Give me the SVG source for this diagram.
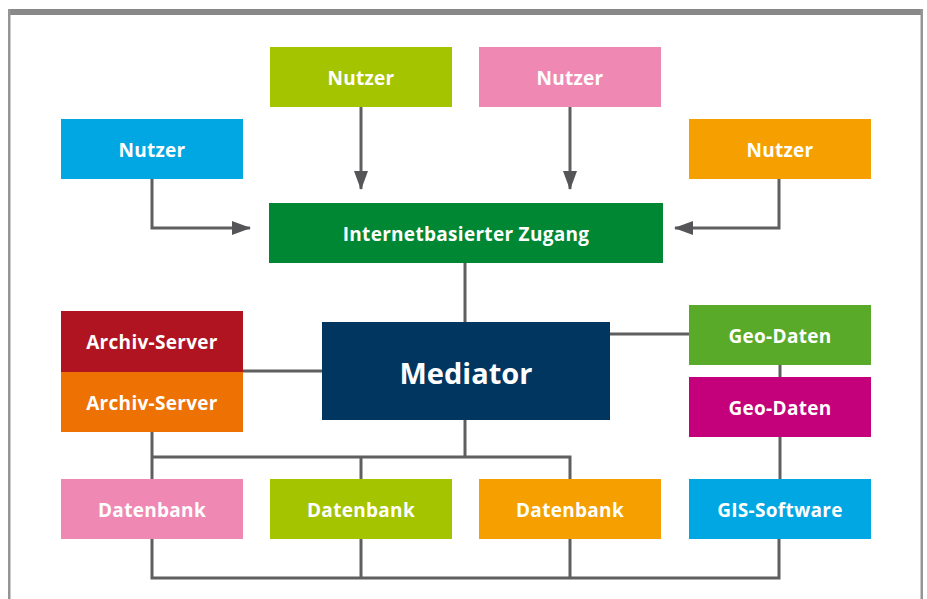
<svg xmlns="http://www.w3.org/2000/svg" width="927" height="599" viewBox="0 0 927 599">
<defs>
<style>
.t{font-family:"Open Sans","Liberation Sans",sans-serif;font-weight:bold;fill:#fff;font-size:19px;letter-spacing:0.3px;text-anchor:middle;dominant-baseline:central}
.big{font-size:29px;letter-spacing:0}
.c{stroke:#5f5f5f;stroke-width:3;fill:none}
</style>
<marker id="ah" markerWidth="20" markerHeight="14" refX="18" refY="7" orient="auto" markerUnits="userSpaceOnUse"><path d="M0,0 L19,7 L0,14 Z" fill="#555558"/></marker>
</defs>
<rect x="0" y="0" width="927" height="599" fill="#fff"/>
<g id="frame">
<rect x="8" y="9" width="915" height="6" fill="#888"/>
<rect x="8" y="9" width="2.5" height="590" fill="#959595"/>
<rect x="920.5" y="9" width="2.5" height="590" fill="#959595"/>
</g>
<g id="connectors">
<path class="c" d="M152,179 V228 H250" marker-end="url(#ah)"/>
<path class="c" d="M779,179 V228 H675" marker-end="url(#ah)"/>
<path class="c" d="M361,107 V189" marker-end="url(#ah)"/>
<path class="c" d="M570,107 V189" marker-end="url(#ah)"/>
<path class="c" d="M465,263 V322"/>
<path class="c" d="M243,371 H322"/>
<path class="c" d="M610,334 H689"/>
<path class="c" d="M780,365 V377"/>
<path class="c" d="M780,437 V479"/>
<path class="c" d="M465,420 V457"/>
<path class="c" d="M152,432 V479"/>
<path class="c" d="M152,457 H570 V479"/>
<path class="c" d="M361,457 V479"/>
<path class="c" d="M152,539 V578 H779 V539"/>
<path class="c" d="M361,539 V578"/>
<path class="c" d="M570,539 V578"/>
</g>
<g id="nutzer1"><rect x="270" y="47" width="182" height="60" fill="#a5c400"/><text class="t" x="361" y="78">Nutzer</text></g>
<g id="nutzer2"><rect x="479" y="47" width="182" height="60" fill="#ef89b4"/><text class="t" x="570" y="78">Nutzer</text></g>
<g id="nutzer3"><rect x="61" y="119" width="182" height="60" fill="#00a7e2"/><text class="t" x="152" y="150">Nutzer</text></g>
<g id="nutzer4"><rect x="689" y="119" width="182" height="60" fill="#f5a000"/><text class="t" x="780" y="150">Nutzer</text></g>
<g id="zugang"><rect x="269" y="203" width="394" height="60" fill="#008733"/><text class="t" x="466" y="234">Internetbasierter Zugang</text></g>
<g id="mediator"><rect x="322" y="322" width="288" height="98" fill="#00365f"/><text class="t big" x="466" y="372">Mediator</text></g>
<g id="archiv1"><rect x="61" y="311" width="182" height="61" fill="#b01420"/><text class="t" x="152" y="342">Archiv-Server</text></g>
<g id="archiv2"><rect x="61" y="372" width="182" height="60" fill="#ee7203"/><text class="t" x="152" y="403">Archiv-Server</text></g>
<g id="geo1"><rect x="689" y="305" width="182" height="60" fill="#5aaa2a"/><text class="t" x="780" y="336">Geo-Daten</text></g>
<g id="geo2"><rect x="689" y="377" width="182" height="60" fill="#c4007a"/><text class="t" x="780" y="408">Geo-Daten</text></g>
<g id="db1"><rect x="61" y="479" width="182" height="60" fill="#ef89b4"/><text class="t" x="152" y="510">Datenbank</text></g>
<g id="db2"><rect x="270" y="479" width="182" height="60" fill="#a5c400"/><text class="t" x="361" y="510">Datenbank</text></g>
<g id="db3"><rect x="479" y="479" width="182" height="60" fill="#f5a000"/><text class="t" x="570" y="510">Datenbank</text></g>
<g id="gis"><rect x="689" y="479" width="182" height="60" fill="#00a7e2"/><text class="t" x="780" y="510">GIS-Software</text></g>
</svg>
